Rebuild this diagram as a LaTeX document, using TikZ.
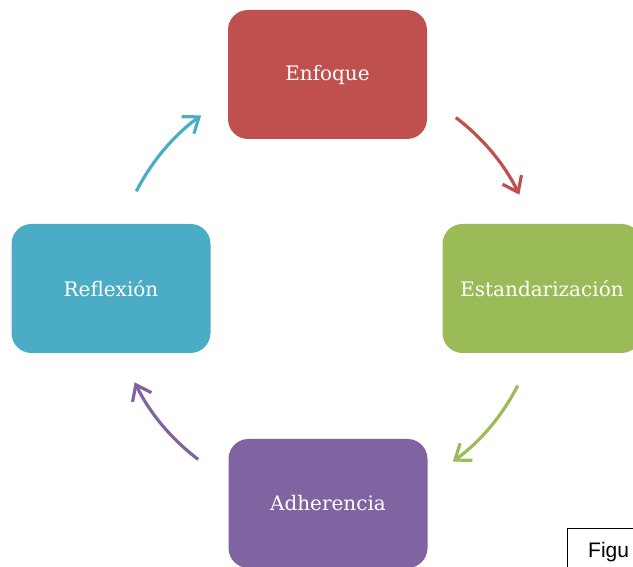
\documentclass[tikz,border=0pt]{standalone}
\usepackage{fontspec}
\setmainfont{DejaVu Serif}
\newfontfamily\figfont{Liberation Sans}
\usetikzlibrary{arrows.meta,calc,positioning}
\definecolor{enfcol}{HTML}{C0504D}
\definecolor{estcol}{HTML}{9BBB59}
\definecolor{adhcol}{HTML}{8064A2}
\definecolor{refcol}{HTML}{4BACC6}

\begin{document}
\begin{tikzpicture}[x=1pt,y=1pt,>={Straight Barb[length=14pt,width=21pt]},
		paso/.style={rectangle,rounded corners=20pt,minimum width=199pt,minimum height=129pt,
			text=white,font=\fontsize{20}{24}\selectfont},
		flecha/.style={->,line width=3.2pt}]
			\useasboundingbox (0,0) rectangle (633,567);
			\coordinate (c) at (327,278.5);
			\node[paso,fill=enfcol] (enf) at (327.5,492.5) {Enfoque};
			\node[paso,fill=estcol] (est) at (542,278.5) {Estandarización};
			\node[paso,fill=adhcol] (adh) at (328,63.5) {Adherencia};
			\node[paso,fill=refcol] (ref) at (111,278.5) {Reflexión};
			% flechas del ciclo
			\draw[flecha,enfcol] ($(c)+(53:214)$) arc[start angle=53,end angle=26,radius=214];
			\draw[flecha,estcol] ($(c)+(-27:214)$) arc[start angle=-27,end angle=-54,radius=214];
			\draw[flecha,adhcol] ($(c)+(-127:214)$) arc[start angle=-127,end angle=-154,radius=214];
			\draw[flecha,refcol] ($(c)+(153:214)$) arc[start angle=153,end angle=126,radius=214];
			% recuadro de la figura
			\draw[line width=1pt] (567,-5) |- (645,38);
			\node[anchor=base west,inner sep=0pt,font=\figfont\fontsize{21}{24}\selectfont] (fig) at (588,9) {Figu};
		\end{tikzpicture}
\end{document}
